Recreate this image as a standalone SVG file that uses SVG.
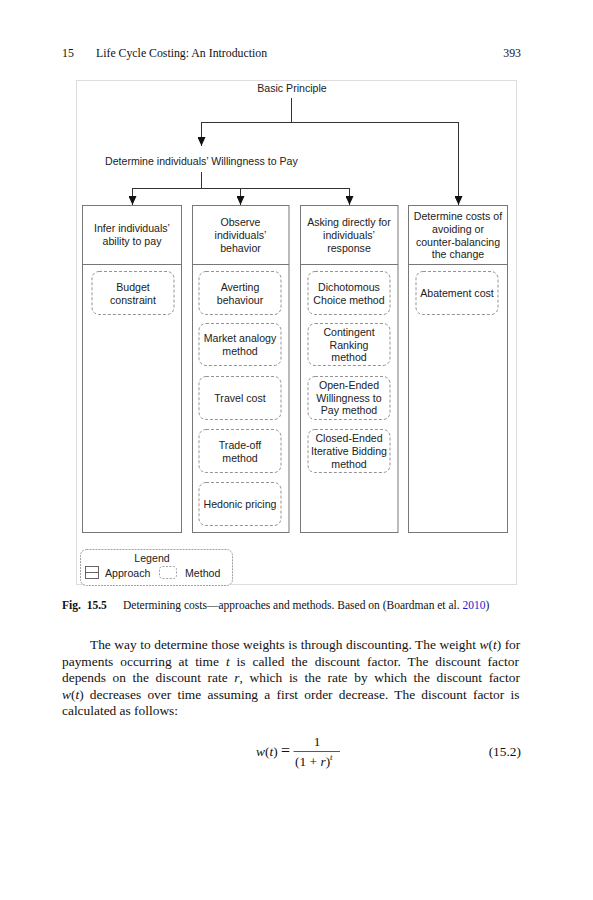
<svg xmlns="http://www.w3.org/2000/svg" width="593" height="900" viewBox="0 0 593 900">
<defs>
<marker id="arr" viewBox="0 0 10 10" refX="10" refY="5" markerWidth="9" markerHeight="8" markerUnits="userSpaceOnUse" orient="auto" preserveAspectRatio="none">
<path d="M0,0 L10,5 L0,10 z" fill="#111"/>
</marker>
<style>
.pg{font-family:"Liberation Serif","Times New Roman",serif;fill:#111;}
.d{font-family:"Liberation Sans",Arial,sans-serif;font-size:10.6px;fill:#222;}
.c{text-anchor:middle;}
.col{fill:#fff;stroke:#777;stroke-width:1;}
.div{stroke:#777;stroke-width:1;fill:none;}
.m{fill:#fff;stroke:#888;stroke-width:0.9;stroke-dasharray:3,2;}
.ln{stroke:#333;stroke-width:1;fill:none;}
.ar{stroke:#333;stroke-width:1;fill:none;marker-end:url(#arr);}
.i{font-style:italic;}
</style>
</defs>
<rect width="593" height="900" fill="#fff"/>

<!-- running head -->
<g id="header" class="pg" font-size="11.8">
<text x="62" y="57">15</text>
<text x="96" y="57">Life Cycle Costing: An Introduction</text>
<text x="521" y="57" text-anchor="end">393</text>
</g>

<!-- figure frame -->
<rect x="76.5" y="80.5" width="440" height="504" fill="#fff" stroke="#ddd" stroke-width="1"/>

<g id="basic-principle">
<text class="d c" x="292" y="91.5">Basic Principle</text>
</g>
<g id="wtp">
<text class="d" x="105" y="164.5">Determine individuals’ Willingness to Pay</text>
</g>

<g id="connectors">
<path class="ln" d="M291.5,98 V122.5"/>
<path class="ln" d="M201,122.5 H458.5"/>
<path class="ar" d="M201.5,122 V146"/>
<path class="ar" d="M458.5,122 V205"/>
<path class="ln" d="M201.5,172 V188.5"/>
<path class="ln" d="M132.5,188.5 H350"/>
<path class="ar" d="M132.5,188 V205"/>
<path class="ar" d="M240.5,188 V205"/>
<path class="ar" d="M349.5,188 V205"/>
</g>

<!-- column 1 -->
<g id="approach-infer">
<rect class="col" x="82.5" y="205.5" width="99" height="327"/>
<path class="div" d="M82.5,264.5 H181.5"/>
<text class="d c" x="132" y="232">Infer individuals’</text>
<text class="d c" x="132" y="245">ability to pay</text>
</g>
<g id="m-budget">
<rect class="m" x="92" y="271.5" width="82" height="43" rx="7"/>
<text class="d c" x="133" y="291">Budget</text>
<text class="d c" x="133" y="304">constraint</text>
</g>

<!-- column 2 -->
<g id="approach-observe">
<rect class="col" x="192.5" y="205.5" width="96.5" height="327"/>
<path class="div" d="M192.5,264.5 H289"/>
<text class="d c" x="240.5" y="226">Observe</text>
<text class="d c" x="240.5" y="239">individuals’</text>
<text class="d c" x="240.5" y="252">behavior</text>
</g>
<g id="m-averting">
<rect class="m" x="199" y="271.5" width="82" height="43" rx="7"/>
<text class="d c" x="240" y="291">Averting</text>
<text class="d c" x="240" y="304">behaviour</text>
</g>
<g id="m-market">
<rect class="m" x="199" y="323.5" width="82" height="42" rx="7"/>
<text class="d c" x="240" y="342">Market analogy</text>
<text class="d c" x="240" y="355">method</text>
</g>
<g id="m-travel">
<rect class="m" x="199" y="376.5" width="82" height="43" rx="7"/>
<text class="d c" x="240" y="401.5">Travel cost</text>
</g>
<g id="m-tradeoff">
<rect class="m" x="199" y="429.5" width="82" height="43" rx="7"/>
<text class="d c" x="240" y="448.5">Trade-off</text>
<text class="d c" x="240" y="461.5">method</text>
</g>
<g id="m-hedonic">
<rect class="m" x="199" y="482.5" width="82" height="43" rx="7"/>
<text class="d c" x="240" y="507.5">Hedonic pricing</text>
</g>

<!-- column 3 -->
<g id="approach-asking">
<rect class="col" x="300.5" y="205.5" width="97.5" height="327"/>
<path class="div" d="M300.5,264.5 H398"/>
<text class="d c" x="349" y="226">Asking directly for</text>
<text class="d c" x="349" y="239">individuals’</text>
<text class="d c" x="349" y="251.5">response</text>
</g>
<g id="m-dichotomous">
<rect class="m" x="308" y="271.5" width="82" height="43" rx="7"/>
<text class="d c" x="349" y="291">Dichotomous</text>
<text class="d c" x="349" y="304">Choice method</text>
</g>
<g id="m-contingent">
<rect class="m" x="308" y="323.5" width="82" height="42" rx="7"/>
<text class="d c" x="349" y="336">Contingent</text>
<text class="d c" x="349" y="348.5">Ranking</text>
<text class="d c" x="349" y="361">method</text>
</g>
<g id="m-openended">
<rect class="m" x="308" y="376.5" width="82" height="43" rx="7"/>
<text class="d c" x="349" y="389">Open-Ended</text>
<text class="d c" x="349" y="401.5">Willingness to</text>
<text class="d c" x="349" y="414">Pay method</text>
</g>
<g id="m-closedended">
<rect class="m" x="308" y="429.5" width="82" height="43" rx="7"/>
<text class="d c" x="349" y="442">Closed-Ended</text>
<text class="d c" x="349" y="455">Iterative Bidding</text>
<text class="d c" x="349" y="467.5">method</text>
</g>

<!-- column 4 -->
<g id="approach-abatement">
<rect class="col" x="408.5" y="205.5" width="99" height="327"/>
<path class="div" d="M408.5,264.5 H507.5"/>
<text class="d c" x="458" y="220">Determine costs of</text>
<text class="d c" x="458" y="233">avoiding or</text>
<text class="d c" x="458" y="245.5">counter-balancing</text>
<text class="d c" x="458" y="258">the change</text>
</g>
<g id="m-abatement">
<rect class="m" x="416" y="271.5" width="82" height="43" rx="7"/>
<text class="d c" x="457" y="297">Abatement cost</text>
</g>

<!-- legend -->
<g id="legend">
<rect x="80.5" y="549.5" width="152" height="36" rx="6" fill="#fff" stroke="#888" stroke-width="0.8" stroke-dasharray="2,1"/>
<text class="d c" x="152" y="561.5">Legend</text>
<rect x="85.5" y="566.5" width="13" height="12" fill="#fff" stroke="#555" stroke-width="0.9"/>
<path d="M85.5,572.5 H98.5" stroke="#555" stroke-width="0.9"/>
<text class="d" x="105" y="577">Approach</text>
<rect x="159.5" y="566.5" width="17" height="12" rx="3" fill="#fff" stroke="#888" stroke-width="0.8" stroke-dasharray="2,1.5"/>
<text class="d" x="185" y="577">Method</text>
</g>

<!-- caption -->
<g id="caption" class="pg" font-size="11.5">
<text x="62" y="609" font-weight="bold" word-spacing="3">Fig. 15.5</text>
<text x="123" y="609">Determining costs—approaches and methods. Based on (Boardman et al. <tspan fill="#1a1acc">2010</tspan>)</text>
</g>

<!-- body text -->
<g id="body" class="pg" font-size="13.4">
<text x="90" y="649" word-spacing="0.2">The way to determine those weights is through discounting. The weight <tspan class="i">w</tspan>(<tspan class="i">t</tspan>) for</text>
<text x="62" y="665.5" word-spacing="3.6">payments occurring at time <tspan class="i">t</tspan> is called the discount factor. The discount factor</text>
<text x="62" y="682" word-spacing="3.3">depends on the discount rate <tspan class="i">r</tspan>, which is the rate by which the discount factor</text>
<text x="62" y="698.5" word-spacing="2.9"><tspan class="i">w</tspan>(<tspan class="i">t</tspan>) decreases over time assuming a first order decrease. The discount factor is</text>
<text x="62" y="715">calculated as follows:</text>
</g>

<!-- equation -->
<g id="equation" class="pg" font-size="13.4">
<text x="256" y="755.5"><tspan class="i">w</tspan>(<tspan class="i">t</tspan>)</text>
<text x="281" y="756" font-size="16">=</text>
<path d="M293.5,751.5 H340" stroke="#111" stroke-width="0.7"/>
<text x="317" y="746" text-anchor="middle">1</text>
<text x="295" y="765.5">(1 + <tspan class="i">r</tspan>)<tspan class="i" font-size="9" dy="-5.5">t</tspan></text>
<text x="521" y="756" text-anchor="end">(15.2)</text>
</g>
</svg>
